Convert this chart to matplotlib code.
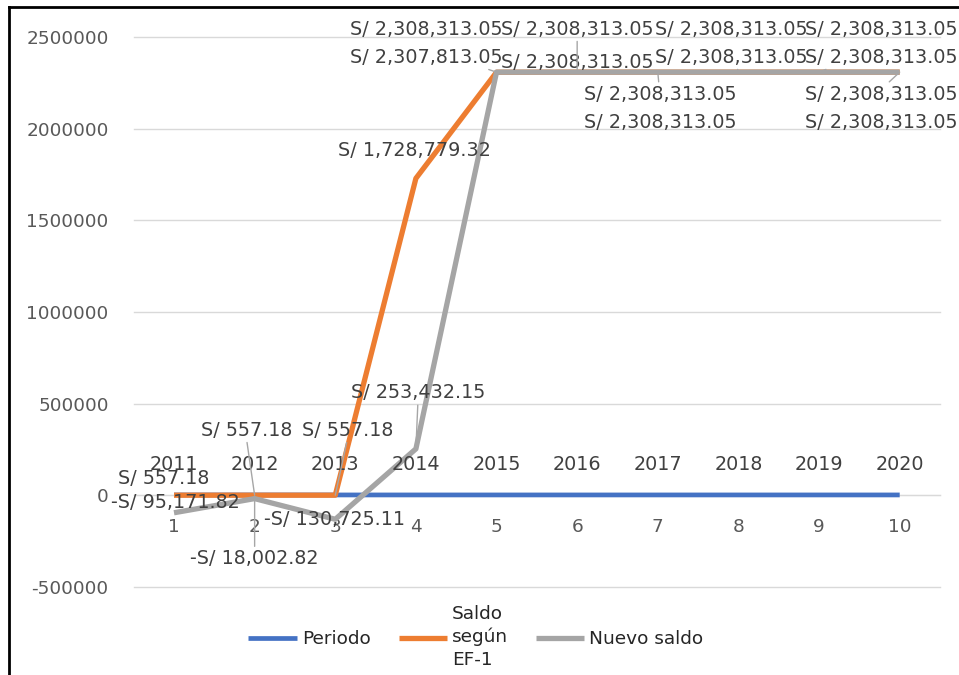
import matplotlib
matplotlib.use("Agg")
from matplotlib import pyplot as plt
from matplotlib.lines import Line2D

# Datos del gráfico
periodos = [1, 2, 3, 4, 5, 6, 7, 8, 9, 10]
anios = [2011, 2012, 2013, 2014, 2015, 2016, 2017, 2018, 2019, 2020]
saldo_ef1 = [557.18, 557.18, 557.18, 1728779.32, 2307813.05,
             2308313.05, 2308313.05, 2308313.05, 2308313.05, 2308313.05]
nuevo_saldo = [-95171.82, -18002.82, -130725.11, 253432.15, 2308313.05,
               2308313.05, 2308313.05, 2308313.05, 2308313.05, 2308313.05]
y_ticks = [-500000, 0, 500000, 1000000, 1500000, 2000000, 2500000]

# Posición de cada etiqueta (desplazamiento en píxeles) y anclaje de la línea guía
ef1_label_pos = [(-10, 17, None), (-8, 65, (0.5, 0)), (12, 65, (0.5, 0)), (-1, 28, None),
                 (-70, 15, (0.5, 1)), (0, 10, None), (2, -22, (0.5, 0.5)),
                 (-7, 15, (0.5, 1)), (62, 15, (0.5, 1)), (-18, -22, (0.45, 0.4))]
nuevo_label_pos = [(1, 10, None), (0, -60, (0.5, 1)), (-1, 0, None), (2, 56, (0.5, 0)),
                   (-70, 43, None), (0, 43, (0.5, 0)), (2, -50, None),
                   (-7, 43, None), (62, 43, None), (-18, -50, None)]

COLOR_PERIODO = "#4472C4"
COLOR_EF1 = "#ED7D31"
COLOR_NUEVO = "#A5A5A5"
TEXT_COLOR = "#404040"
FS = 13.3
FS_LABEL = 13.8


def fmt_soles(v):
    signo = "-" if v < 0 else ""
    return f"{signo}S/ {abs(v):,.2f}"


def etiquetar(ax, xs, ys, textos, posiciones):
    for x, y, txt, (dx, dy, rel) in zip(xs, ys, textos, posiciones):
        props = None
        if rel is not None:
            props = dict(arrowstyle="-", color="#A6A6A6", lw=1,
                         shrinkA=0, shrinkB=0, relpos=rel)
        ax.annotate(txt, xy=(x, y), xytext=(dx, dy), textcoords="offset pixels",
                    ha="center", va="center", fontsize=FS_LABEL, color=TEXT_COLOR,
                    arrowprops=props, zorder=5)


fig = plt.figure(figsize=(9.59, 6.75), dpi=100)
ax = fig.add_axes([0.1394, 0.1304, 0.8408, 0.8148])

ax.plot(periodos, anios, color=COLOR_PERIODO, linewidth=3.4, label="Periodo",
        solid_capstyle="butt", zorder=3)
ax.plot(periodos, saldo_ef1, color=COLOR_EF1, linewidth=3.8, label="Saldo\nsegún\nEF-1",
        solid_capstyle="butt", zorder=3.1)
ax.plot(periodos, nuevo_saldo, color=COLOR_NUEVO, linewidth=3.8, label="Nuevo saldo",
        solid_capstyle="butt", zorder=3.2)

ax.set_xlim(0.5, 10.5)
ax.set_ylim(-500000, 2500000)
ax.set_yticks(y_ticks, labels=[str(t) for t in y_ticks])
ax.set_xticks(periodos, labels=[str(p) for p in periodos])
ax.yaxis.grid(True, color="#D9D9D9", linewidth=1)
for gl in ax.get_ygridlines():
    gl.set_clip_on(False)
ax.set_axisbelow(True)
for lado in ["top", "right", "left"]:
    ax.spines[lado].set_visible(False)
ax.spines["bottom"].set_position(("data", 0))
ax.spines["bottom"].set_color("#D9D9D9")
ax.tick_params(axis="y", length=0, pad=18, labelsize=FS, labelcolor="#595959")
ax.tick_params(axis="x", length=0, pad=16, labelsize=FS, labelcolor="#595959")

# Etiquetas de datos
etiquetar(ax, periodos, anios, [str(a) for a in anios], [(0, 30, None)] * len(anios))
etiquetar(ax, periodos, saldo_ef1, [fmt_soles(v) for v in saldo_ef1], ef1_label_pos)
etiquetar(ax, periodos, nuevo_saldo, [fmt_soles(v) for v in nuevo_saldo], nuevo_label_pos)

leg = fig.legend(loc="center", bbox_to_anchor=(0.4964, 0.0563), ncol=3, frameon=False,
                 fontsize=FS, handlelength=2.6, handletextpad=0.3, columnspacing=1.5)
for t in leg.get_texts():
    t.set_linespacing(1.35)
    t.set_color("#262626")

# Borde del área del gráfico (recortado a la derecha y abajo)
fig.add_artist(Line2D([9 / 959, 9 / 959], [0, 1 - 7 / 675], color="black", lw=2,
                      transform=fig.transFigure))
fig.add_artist(Line2D([9 / 959, 1], [1 - 7 / 675, 1 - 7 / 675], color="black", lw=2,
                      transform=fig.transFigure))

fig.savefig("out.png", dpi=100)
